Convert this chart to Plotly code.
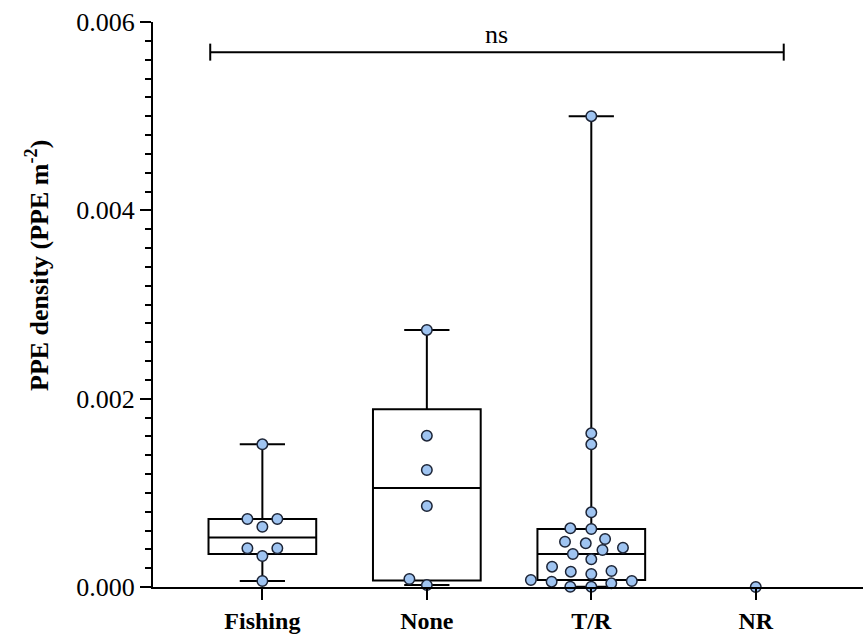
import numpy as np
import plotly.graph_objects as go

# ---- data ----
categories = ["Fishing", "None", "T/R", "NR"]
fishing = [0.001515, 0.000722, 0.000722, 0.00064, 0.000411, 0.000411, 0.000329, 0.0000637]
none_ = [0.00273, 0.001607, 0.001242, 0.00086, 0.000085, 0.00002]
tr = [0.005, 0.001632, 0.001515, 0.000793, 0.000623, 0.000616, 0.00051, 0.000481,
      0.000464, 0.000418, 0.000393, 0.00035, 0.000294, 0.000216, 0.00017, 0.000163,
      0.000138, 0.0000743, 0.0000637, 0.0000566, 0.000039, 0.000003, 0.000003]
nr = [0.0]
groups = [fishing, none_, tr, nr]
y_ticks = [0.0, 0.002, 0.004, 0.006]
stat_label = "ns"

# ---- layout constants ----
W, H = 863, 634
ML, MR, MT, MB = 153, 0, 22, 47
XR = [-0.665, 3.652]
YR = [0.0, 0.006]
plot_w = W - ML - MR
plot_h = H - MT - MB
px_x = plot_w / (XR[1] - XR[0])   # pixels per category unit
px_y = plot_h / (YR[1] - YR[0])   # pixels per y unit

SERIF = "Liberation Serif, Times New Roman, serif"
FILL = "#9fc4f1"
EDGE = "#1c2436"


def swarm_offsets(vals, sx=21.0, sy=11.0):
    """Simple beeswarm: pixel x-offsets so markers do not overlap."""
    order = np.argsort(vals)
    placed = []  # (x, y) in px
    offs = np.zeros(len(vals))
    for idx in order:
        y = vals[idx] * px_y
        cands = [0.0]
        for (px, py) in placed:
            dy = abs(py - y)
            if dy < sy:
                d = sx * np.sqrt(1 - (dy / sy) ** 2)
                cands += [px + d, px - d]
        cands = sorted(set(round(c, 4) for c in cands), key=lambda c: (abs(c), c))
        for c in cands:
            ok = True
            for (px, py) in placed:
                if ((c - px) / sx) ** 2 + ((y - py) / sy) ** 2 < 0.999:
                    ok = False
                    break
            if ok:
                offs[idx] = c
                placed.append((c, y))
                break
    return offs


fig = go.Figure()

for i, vals in enumerate(groups):
    v = np.array(vals, dtype=float)
    if len(v) >= 3:
        q1, med, q3 = np.percentile(v, [25, 50, 75], method="weibull")
        fig.add_trace(go.Box(
            x=[i], q1=[q1], median=[med], q3=[q3],
            lowerfence=[v.min()], upperfence=[v.max()],
            width=0.655, whiskerwidth=0.42,
            fillcolor="rgba(0,0,0,0)",
            line=dict(color="black", width=2),
            boxpoints=False, showlegend=False, hoverinfo="skip",
        ))

for i, vals in enumerate(groups):
    v = np.array(vals, dtype=float)
    offs = swarm_offsets(v)
    fig.add_trace(go.Scatter(
        x=i + offs / px_x, y=v, mode="markers",
        marker=dict(size=10.5, color=FILL, line=dict(color=EDGE, width=1.5)),
        cliponaxis=False, showlegend=False, hoverinfo="skip",
    ))

# significance bracket
bx0, bx1 = -0.317, 3.17
by = 0.00568
cap = 8.5 / px_y
for (x0, y0, x1, y1) in [(bx0, by, bx1, by), (bx0, by - cap, bx0, by + cap), (bx1, by - cap, bx1, by + cap)]:
    fig.add_shape(type="line", x0=x0, y0=y0, x1=x1, y1=y1, xref="x", yref="y",
                  line=dict(color="black", width=2))
fig.add_annotation(x=(bx0 + bx1) / 2, y=by, xref="x", yref="y", text=stat_label,
                   showarrow=False, yanchor="bottom", yshift=1,
                   font=dict(family=SERIF, size=26, color="black"))

# y-axis title
fig.add_annotation(x=0, y=(587 - 266) / plot_h, xref="paper", yref="paper",
                   xshift=-(ML - 37), xanchor="center", yanchor="middle",
                   text="<b>PPE density (PPE m<sup>-2</sup>)</b>", textangle=-90,
                   showarrow=False, font=dict(family=SERIF, size=26, color="black"))

fig.update_layout(
    width=W, height=H,
    margin=dict(l=ML, r=MR, t=MT, b=MB, pad=0),
    plot_bgcolor="white", paper_bgcolor="white",
    showlegend=False,
    xaxis=dict(
        range=XR, tickmode="array", tickvals=list(range(len(categories))),
        ticktext=[f"<b>{c}</b>" for c in categories],
        tickfont=dict(family=SERIF, size=24, color="black"),
        ticks="outside", ticklen=11, tickwidth=2, tickcolor="black",
        showline=True, linewidth=2, linecolor="black",
        showgrid=False, zeroline=False,
    ),
    yaxis=dict(
        range=YR, tickmode="array", tickvals=y_ticks, tickformat=".3f",
        tickfont=dict(family=SERIF, size=26, color="black"),
        ticks="outside", ticklen=11, tickwidth=2, tickcolor="black",
        minor=dict(dtick=0.0002, ticks="outside", ticklen=6, tickwidth=2, tickcolor="black"),
        showline=True, linewidth=2, linecolor="black",
        showgrid=False, zeroline=False,
    ),
)

fig.write_html("out.html", config={"displayModeBar": False},
               post_script="document.body.style.margin='0';document.body.style.overflow='hidden';")
